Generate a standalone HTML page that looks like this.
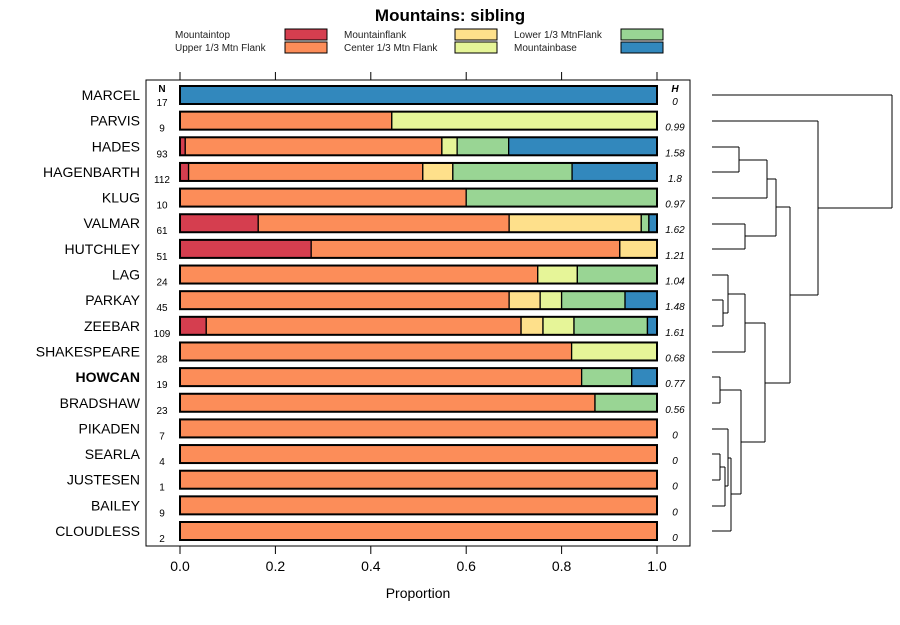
<!DOCTYPE html>
<html><head><meta charset="utf-8"><style>
body{margin:0;background:#fff;font-family:"Liberation Sans",sans-serif;}
svg text{font-family:"Liberation Sans",sans-serif;}
</style></head><body>
<svg id="chart" width="900" height="620" viewBox="0 0 900 620"></svg>
<script>
const categories=["MARCEL","PARVIS","HADES","HAGENBARTH","KLUG","VALMAR","HUTCHLEY","LAG","PARKAY","ZEEBAR","SHAKESPEARE","HOWCAN","BRADSHAW","PIKADEN","SEARLA","JUSTESEN","BAILEY","CLOUDLESS"];
const nValues=[17,9,93,112,10,61,51,24,45,109,28,19,23,7,4,1,9,2];
const hLabels=["0","0.99","1.58","1.8","0.97","1.62","1.21","1.04","1.48","1.61","0.68","0.77","0.56","0","0","0","0","0"];
const seriesNames=["Mountaintop","Upper 1/3 Mtn Flank","Mountainflank","Center 1/3 Mtn Flank","Lower 1/3 MtnFlank","Mountainbase"];
const top_=[0,0,0.011,0.018,0,0.164,0.275,0,0,0.055,0,0,0,0,0,0,0,0];
const upper=[0,0.444,0.538,0.491,0.6,0.526,0.647,0.75,0.69,0.66,0.821,0.842,0.87,1,1,1,1,1];
const mflank=[0,0,0,0.063,0,0.277,0.078,0,0.065,0.046,0,0,0,0,0,0,0,0];
const center=[0,0.556,0.032,0,0,0,0,0.083,0.045,0.065,0.179,0,0,0,0,0,0,0];
const lower=[0,0,0.108,0.25,0.4,0.016,0,0.167,0.133,0.154,0,0.105,0.13,0,0,0,0,0];
const base=[1,0,0.311,0.178,0,0.017,0,0,0.067,0.02,0,0.053,0,0,0,0,0,0];
const xTicks=[0,0.2,0.4,0.6,0.8,1.0];
const xTickLabels=["0.0","0.2","0.4","0.6","0.8","1.0"];
const colors=["#d53e4f","#fc8d59","#fee08b","#e6f598","#99d594","#3288bd"];
const series=[top_,upper,mflank,center,lower,base];

const svg=document.getElementById('chart');
const NS="http://www.w3.org/2000/svg";
function mk(tag,attrs,parent){const e=document.createElementNS(NS,tag);for(const k in attrs)e.setAttribute(k,attrs[k]);(parent||svg).appendChild(e);return e;}
const xS=v=>180+v*477;
const yS=i=>95+i*(531-95)/17;

let t=mk('text',{x:450,y:21,'text-anchor':'middle','font-size':17,'font-weight':'bold'});t.textContent="Mountains: sibling";


const legPos=[[175,285,34],[175,285,47],[344,455,34],[344,455,47],[514,621,34],[514,621,47]];
seriesNames.forEach((n,k)=>{
  const p=legPos[k];
  const g=mk('g',{});
  
  
  const tx=mk('text',{x:p[0],y:p[2]+4,'font-size':10,fill:'#222'},g);tx.textContent=n;
  mk('rect',{x:p[1],y:p[2]-5,width:42,height:11,fill:colors[k],stroke:'#000','stroke-width':1},g);
});

const frame=mk('rect',{x:146,y:80,width:544,height:466,fill:'none',stroke:'#000','stroke-width':1});


xTicks.forEach((v,k)=>{
  mk('line',{x1:xS(v),x2:xS(v),y1:72,y2:80,stroke:'#000'});
  mk('line',{x1:xS(v),x2:xS(v),y1:546,y2:554,stroke:'#000'});
  const l=mk('text',{x:xS(v),y:571,'text-anchor':'middle','font-size':14});l.textContent=xTickLabels[k];
  
  
});
t=mk('text',{x:418,y:598,'text-anchor':'middle','font-size':14});t.textContent="Proportion";


t=mk('text',{x:162,y:92,'text-anchor':'middle','font-size':10,'font-weight':'bold'});t.textContent="N";
t=mk('text',{x:675,y:92,'text-anchor':'middle','font-size':10,'font-weight':'bold','font-style':'italic'});t.textContent="H";

categories.forEach((c,i)=>{
  const y=yS(i);
  const lab=mk('text',{x:140,y:y+5,'text-anchor':'end','font-size':14,'font-weight':c==="HOWCAN"?'bold':'normal'});lab.textContent=c;
  
  
  const n=mk('text',{x:162,y:y+11,'text-anchor':'middle','font-size':10});n.textContent=nValues[i];
  
  
  const h=mk('text',{x:675,y:y+10,'text-anchor':'middle','font-size':10,'font-style':'italic'});h.textContent=hLabels[i];
  
  
  let cum=0;
  series.forEach((s,k)=>{
    const v=s[i];
    if(v>0){
      const r=mk('rect',{x:xS(cum),y:y-9,width:xS(cum+v)-xS(cum),height:18,fill:colors[k],stroke:'#000','stroke-width':1.3});
      
      
    }
    cum+=v;
  });
  mk('rect',{x:xS(0),y:y-9,width:xS(1)-xS(0),height:18,fill:'none',stroke:'#000','stroke-width':2});
});

// dendrogram
const dg=mk('g',{stroke:'#000','stroke-width':1,fill:'none'});


const segs=[[712,95,892,95],[892,95,892,208],[818,208,892,208],[712,121,818,121],[818,121,818,295],[790,295,818,295],
[712,147,739,147],[712,172,739,172],[739,147,739,172],[739,160,767,160],[712,198,767,198],[767,160,767,198],[767,179,776,179],
[712,224,745,224],[712,249,745,249],[745,224,745,249],[745,236,776,236],[776,179,776,236],[776,207,790,207],[790,207,790,383],
[712,275,728,275],[712,300,723,300],[712,326,723,326],[723,300,723,326],[723,313,728,313],[728,275,728,313],[728,294,745,294],
[712,352,745,352],[745,294,745,352],[745,323,765,323],[765,323,765,442],[765,383,790,383],
[712,377,720,377],[712,403,720,403],[720,377,720,403],[720,390,741,390],
[712,429,728,429],[712,454,720,454],[712,480,720,480],[720,454,720,480],[720,467,725,467],[712,506,725,506],[725,467,725,506],[725,486,728,486],[728,429,728,486],[728,458,731,458],
[712,531,731,531],[731,458,731,531],[731,494,741,494],[741,390,741,494],[741,442,765,442]];
segs.forEach(s=>mk('line',{x1:s[0],y1:s[1],x2:s[2],y2:s[3]},dg));
</script>
</body></html>
